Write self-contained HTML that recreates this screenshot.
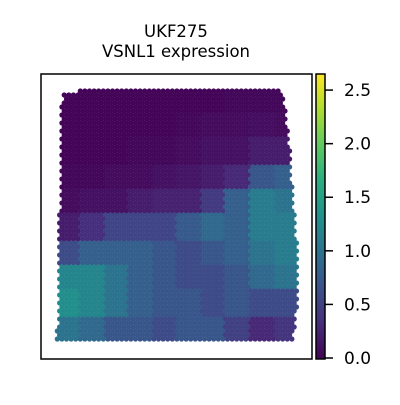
<!DOCTYPE html>
<html><head><meta charset="utf-8"><style>
body{margin:0;background:#fff;}
svg text{font-family:"DejaVu Sans","Liberation Sans",sans-serif;}
</style></head><body>
<svg id="c" width="400" height="400" viewBox="0 0 400 400">
<defs>
<linearGradient id="vir" x1="0" y1="1" x2="0" y2="0">
<stop offset="0" stop-color="#440154"/><stop offset="0.125" stop-color="#472d7b"/>
<stop offset="0.25" stop-color="#3b528b"/><stop offset="0.375" stop-color="#2c728e"/>
<stop offset="0.5" stop-color="#21918c"/><stop offset="0.625" stop-color="#28ae80"/>
<stop offset="0.75" stop-color="#5ec962"/><stop offset="0.875" stop-color="#addc30"/>
<stop offset="1" stop-color="#fde725"/></linearGradient>
</defs>
<text x="176" y="37" font-size="16.5" text-anchor="middle">UKF275</text>
<text x="176" y="57" font-size="16.5" text-anchor="middle">VSNL1 expression</text>
<rect x="41" y="74" width="271" height="285" fill="#fff" stroke="#000" stroke-width="1.5"/>
<g id="spots"></g>
<rect x="316" y="74" width="9" height="285" fill="url(#vir)" stroke="#000" stroke-width="1.5"/>
<g id="cbticks"></g>
</svg>
<script>
const cbTicks=[0.0,0.5,1.0,1.5,2.0,2.5];
const cbMax=2.65;
// coarse regional expression averages, rows top->bottom, cols left->right
const gridRows=[
[0.03,0.03,0.03,0.03,0.03,0.03,0.03,0.05,0.05,0.05],
[0.03,0.03,0.03,0.03,0.03,0.05,0.08,0.08,0.1,0.08],
[0.03,0.03,0.03,0.05,0.05,0.08,0.12,0.12,0.2,0.2],
[0.05,0.05,0.08,0.08,0.12,0.15,0.2,0.3,0.7,0.8],
[0.08,0.12,0.12,0.2,0.25,0.25,0.45,0.8,1.1,1.0],
[0.2,0.35,0.55,0.55,0.55,0.75,0.9,0.8,1.1,1.1],
[0.6,0.8,0.8,0.8,0.7,0.6,0.7,0.8,1.0,1.1],
[1.2,1.2,1.0,0.8,0.7,0.6,0.6,0.7,0.9,1.0],
[1.3,1.2,1.0,0.8,0.7,0.7,0.6,0.7,0.6,0.6],
[1.0,0.9,0.7,0.7,0.6,0.7,0.7,0.5,0.3,0.4]];
const NS="http://www.w3.org/2000/svg";
const vir=[[68,1,84],[71,45,123],[59,82,139],[44,114,142],[33,145,140],[40,174,128],[94,201,98],[173,220,48],[253,231,37]];
function color(v){let t=Math.max(0,Math.min(1,v/cbMax))*8;let i=Math.min(7,Math.floor(t)),f=t-i;
const a=vir[i],b=vir[i+1];return `rgb(${a.map((x,k)=>Math.round(x+(b[k]-x)*f)).join(',')})`;}
const yScale=v=>358-(v/cbMax)*(358-74);
const X0=55,X1=298,Y0=87,Y1=342;
function rightEdge(y){if(y<130)return 283+(y-95)*5/35;if(y<260)return 288+(y-130)*10/130;if(y<305)return 298;return 298-(y-305)*6/37;}
function leftEdge(y){return 62-(y-95)*5/247;}
function topEdge(x){return x<80?95:88;}
const g=document.getElementById('spots');
const nr=gridRows.length,nc=gridRows[0].length;
let row=0;
for(let y=Y0;y<=Y1;y+=4,row++){
  const off=(row%2)*2.3;
  for(let x=X0+off;x<=X1;x+=4.6){
    if(x<leftEdge(y)||x>rightEdge(y)||y<topEdge(x))continue;
    const ri=Math.min(nr-1,Math.floor((y-Y0)/(Y1-Y0)*nr));
    const ci=Math.min(nc-1,Math.floor((x-X0)/(X1-X0)*nc));
    const c=document.createElementNS(NS,'circle');
    c.setAttribute('cx',x.toFixed(1));c.setAttribute('cy',y);c.setAttribute('r',2.6);
    c.setAttribute('fill',color(gridRows[ri][ci]));
    
    
    g.appendChild(c);
  }
}
const tg=document.getElementById('cbticks');
cbTicks.forEach(v=>{
  const y=yScale(v);
  const l=document.createElementNS(NS,'line');
  l.setAttribute('x1',325);l.setAttribute('x2',333);l.setAttribute('y1',y);l.setAttribute('y2',y);
  l.setAttribute('stroke','#000');l.setAttribute('stroke-width',1.5);
  
  
  tg.appendChild(l);
  const t=document.createElementNS(NS,'text');
  t.setAttribute('x',344);t.setAttribute('y',y+6);t.setAttribute('font-size',17);
  t.textContent=v.toFixed(1);
  
  
  tg.appendChild(t);
});
</script>
</body></html>
